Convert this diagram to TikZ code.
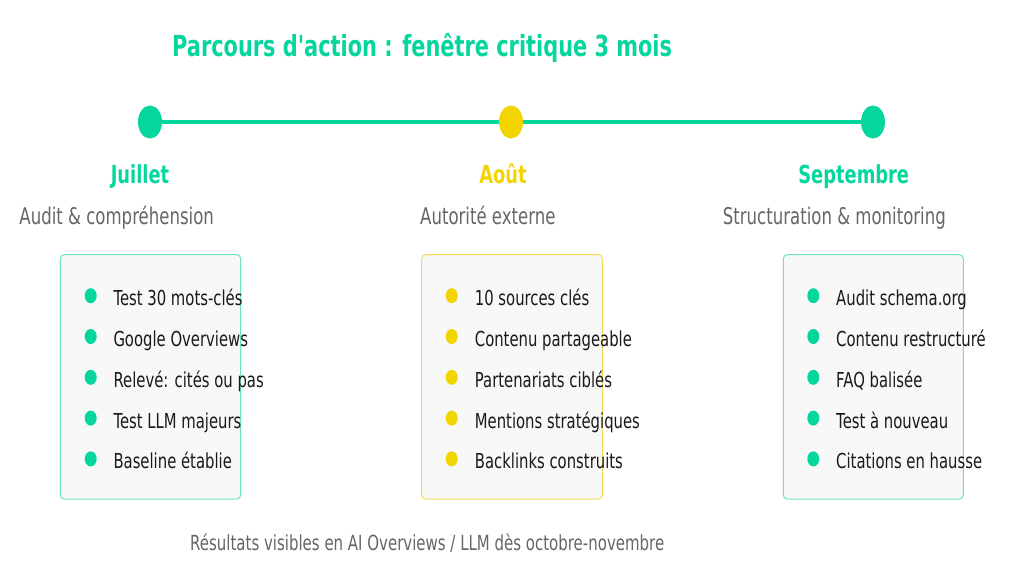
\documentclass[tikz,border=0pt]{standalone}
\usepackage{fontspec}
\setmainfont[FakeStretch=0.72, Ligatures=TeXOff]{DejaVu Sans}
\definecolor{grn}{HTML}{05D69E}
\definecolor{ylw}{HTML}{F2D500}
\definecolor{grnb}{HTML}{6FE3C0}
\definecolor{ylwb}{HTML}{F3DC55}
\definecolor{boxfill}{HTML}{F8F8F8}
\definecolor{subgray}{HTML}{666666}
\definecolor{itemtxt}{HTML}{1A1A1A}
\tikzset{
  dotbig/.style={ellipse, minimum width=24pt, minimum height=33pt, inner sep=0pt},
  bul/.style={ellipse, minimum width=12pt, minimum height=15pt, inner sep=0pt},
  month/.style={font=\fontsize{24.8}{28}\selectfont\bfseries, inner sep=0pt, anchor=base},
  subt/.style={font=\fontsize{23}{27}\selectfont, text=subgray, inner sep=0pt, anchor=base west},
  itm/.style={font=\fontsize{20.6}{24}\selectfont, text=itemtxt, inner sep=0pt, anchor=base west},
  card/.style={rounded corners=4pt, fill=boxfill, line width=1pt},
}
\usetikzlibrary{shapes.geometric}
\begin{document}
\begin{tikzpicture}[x=1pt,y=-1pt]
\useasboundingbox (0,0) rectangle (1024,576);
\fill[white] (0,0) rectangle (1024,576);
% title
\node[font=\fontsize{29}{33}\selectfont\bfseries, text=grn, inner sep=0pt, anchor=base west] (title) at (172,56.7) {Parcours d'action : fenêtre critique 3 mois};
% timeline
\node[dotbig, fill=grn] (d1) at (150,122) {};
\node[dotbig, fill=ylw] (d2) at (511,122) {};
\node[dotbig, fill=grn] (d3) at (873,122) {};
\draw[grn, line width=4pt] (d1) -- (d2);
\draw[grn, line width=4pt] (d2) -- (d3);
% months
\node[month, text=grn] (m1) at (140,183) {Juillet};
\node[month, text=ylw] (m2) at (503,183) {Août};
\node[month, text=grn] (m3) at (853.7,183) {Septembre};
\node[subt] (s1) at (19.3,224) {Audit \& compréhension};
\node[subt] (s2) at (420,224) {Autorité externe};
\node[subt] (s3) at (722.7,224) {Structuration \& monitoring};
% cards
\draw[card, draw=grnb] (60.3,254.7) rectangle (240.7,499);
\draw[card, draw=ylwb] (421.7,254.7) rectangle (602.3,499);
\draw[card, draw=grnb] (783.3,254.7) rectangle (963.3,499);
% items
\foreach \t [count=\i] in {Test 30 mots-clés, Google Overviews, Relevé: cités ou pas, Test LLM majeurs, Baseline établie}{
  \node[bul, fill=grn] (b1\i) at (90.7,{295.7+40.8*(\i-1)}) {};
  \node[itm] (t1\i) at (113.3,{305.7+40.8*(\i-1)}) {\t};
}
\foreach \t [count=\i] in {10 sources clés, Contenu partageable, Partenariats ciblés, Mentions stratégiques, Backlinks construits}{
  \node[bul, fill=ylw] (b2\i) at (451.7,{295.7+40.8*(\i-1)}) {};
  \node[itm] (t2\i) at (474.7,{305.7+40.8*(\i-1)}) {\t};
}
\foreach \t [count=\i] in {Audit schema.org, Contenu restructuré, FAQ balisée, Test à nouveau, Citations en hausse}{
  \node[bul, fill=grn] (b3\i) at (813.3,{295.7+40.8*(\i-1)}) {};
  \node[itm] (t3\i) at (836,{305.7+40.8*(\i-1)}) {\t};
}
% footer
\node[subt, font=\fontsize{20.8}{24}\selectfont] (foot) at (190,550) {Résultats visibles en AI Overviews / LLM dès octobre-novembre};
\end{tikzpicture}
\end{document}
